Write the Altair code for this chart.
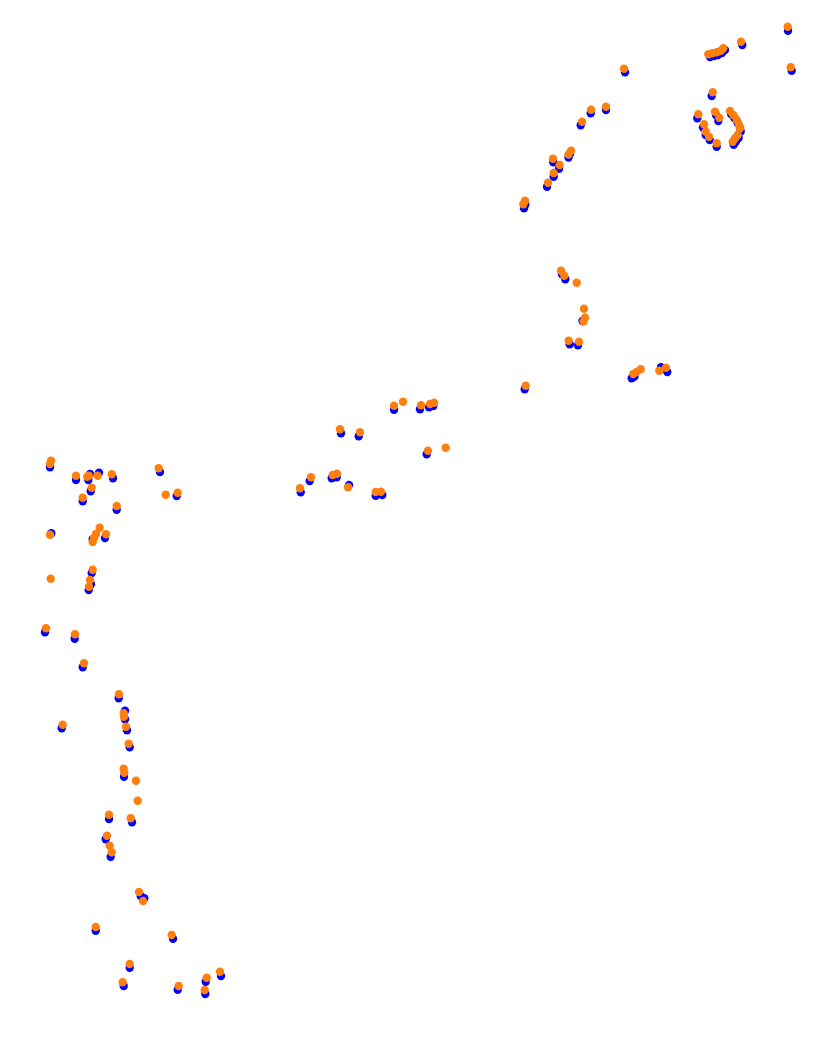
import altair as alt
import pandas as pd

# Blue series (x, y)
blue_x = [788, 791.7, 742.3, 710, 714, 718, 722, 725, 711.7,
          697.3, 716, 718.3, 703, 705.7, 709.7, 716.7, 731, 734.3, 737.7, 740, 740.7, 738.7, 736, 733.7,
          625, 606, 590.7, 580.7, 570, 568.5, 553.3, 559, 553.7, 547, 525.3, 524,
          562, 565.3, 582.5, 569.7, 578, 524.7, 631.7, 634.5, 661, 667.3,
          394, 420, 429, 433.3, 341, 358.7, 426.7, 309.7, 300.7, 331.7, 336.7, 349, 375.7, 382.3,
          50, 76, 90, 88.3, 99, 113, 90.7, 82.7, 116.7, 160, 176.7, 51.3, 92.7, 105, 91.7, 91, 88.7,
          45, 74.7, 82.7, 118.7, 125, 125, 127, 61.7, 129.7, 124, 109, 132, 105.7, 110.7,
          140.7, 144.3, 95.7, 173, 129.7, 123.7, 177.7, 205.7, 205.3, 221]
blue_y = [30.7, 70.7, 45, 57, 56, 55, 53, 50, 96,
          118.3, 115, 121, 127.5, 135, 140, 146.7, 114, 118, 123, 128, 131.5, 138, 141.5, 144.7,
          72.3, 110, 113.3, 125.3, 154, 157.5, 162.3, 168.7, 176.7, 186.7, 204.7, 208.3,
          274.3, 279.3, 321, 344.3, 345.3, 389.3, 378.3, 376.5, 367.3, 372,
          409.7, 409.3, 407.3, 406, 433.3, 436.3, 454.3, 481, 492.3, 478.3, 477.3, 485, 495.7, 495,
          467.3, 480, 474, 480, 472.7, 478.3, 491.3, 501.3, 509.7, 472, 496, 533.3, 539.3, 538, 573, 584.3, 590,
          632.3, 638.7, 667.3, 698.3, 710.7, 719.3, 730.3, 728.3, 747.3, 776.7, 819, 822.3, 839.3, 856.7,
          896, 898.3, 930.7, 938.7, 967.7, 986, 989.7, 981.7, 994, 976]

# Orange series (x, y)
orange_x = [787.7, 790.7, 741, 708.3, 712.3, 716.7, 720.7, 723.3, 712.7,
            698.3, 715, 719.3, 704, 705.7, 709, 716.7, 730, 733.3, 736.7, 739, 740, 737.7, 735, 732.7,
            624, 606, 591, 582, 571, 568.5, 553, 559.7, 553.7, 548, 525, 523.3,
            561, 564.3, 576.7, 584, 585, 583.5, 568.7, 579, 525.7, 633.3, 636.7, 640.7, 659.3, 666,
            394, 403, 421, 430, 434, 340, 360, 428, 445.7, 311, 300, 332.7, 337, 348, 375.7, 381,
            51, 50, 76, 87.3, 89, 97.7, 111.7, 91.7, 82.7, 116.7, 158.7, 165.7, 177.7, 50, 99.7, 96, 94, 92.7,
            106, 50.7, 92.7, 90, 89,
            46, 75, 84, 119, 123.7, 124, 126, 62.7, 128.7, 123.7, 124.3, 136, 137.7, 109, 130.7, 107,
            109.7, 111.7,
            139, 143, 95.7, 171.7, 129.7, 122.7, 178.7, 206.7, 204.7, 220]
orange_y = [26.7, 67.3, 41.7, 54.3, 53.3, 52.3, 50.7, 48.3, 92.3,
            114.3, 111.7, 117.7, 124.3, 131.7, 136.7, 143.3, 111, 115, 120, 125, 128.3, 135, 138.3, 141.7,
            68.7, 106.7, 109.7, 121.7, 150.7, 154.5, 158.7, 165, 173, 182.7, 200.7, 204.3,
            270.7, 275.7, 282.7, 308.7, 317.7, 321.5, 340.7, 341.7, 385.7, 374, 372, 369.3, 370.7, 367.7,
            405.7, 401.7, 405.3, 404, 402.7, 429.3, 432.3, 450.7, 447.7, 477.3, 488.3, 475, 473.7, 487.3, 492, 491.7,
            460.7, 464, 475.7, 476.7, 475.7, 475.7, 474.3, 487.7, 497.7, 506, 468.3, 494.7, 492.7, 534.7, 527.7, 534, 538, 542,
            534.3, 578.7, 569.7, 580, 586.7,
            628.3, 634.3, 663.3, 694.3, 713.3, 716.7, 726.7, 724.7, 743.7, 768.7, 772.7, 780.7, 800.7, 814.7, 818.3, 835.7,
            845.7, 852.3,
            892, 901, 927, 935, 964, 982.3, 986, 977.7, 990, 971.7]

blue = pd.DataFrame({"x": blue_x, "y": blue_y})
orange = pd.DataFrame({"x": orange_x, "y": orange_y})

xs = alt.Scale(domain=[8, 819], nice=False, zero=False)
ys = alt.Scale(domain=[8, 1031], nice=False, zero=False, reverse=True)

def layer(df, color):
    return alt.Chart(df).mark_circle(size=70, opacity=1, color=color).encode(
        x=alt.X("x:Q", scale=xs, axis=None),
        y=alt.Y("y:Q", scale=ys, axis=None),
    )

chart = alt.layer(layer(blue, "#0000ff"), layer(orange, "#ff7f0e")).properties(
    width=811, height=1023, padding=0, autosize=alt.AutoSizeParams(type="none")
).configure_view(stroke=None)

chart.save("out.html", embed_options={"renderer": "svg", "actions": False})
